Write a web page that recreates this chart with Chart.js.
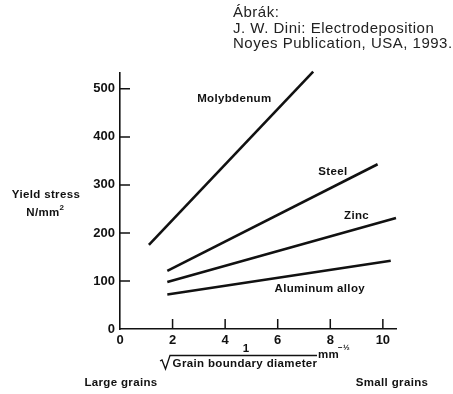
<!DOCTYPE html>
<html>
<head>
<meta charset="utf-8">
<script src="https://cdn.jsdelivr.net/npm/chart.js@4.4.0/dist/chart.umd.min.js"></script>
<style>
  html, body { margin: 0; padding: 0; background: #fff; }
  #wrap { width: 453px; height: 394px; }
</style>
</head>
<body>
<div id="wrap"><canvas id="yieldChart" width="453" height="394"></canvas></div>
<script>
// yield stress vs 1/sqrt(grain diameter)
const xTicks = [0, 2, 4, 6, 8, 10];
const yTicks = [0, 100, 200, 300, 400, 500];

const seriesNames = ['Molybdenum', 'Steel', 'Zinc', 'Aluminum alloy'];
const molybdenumX = [1.1, 7.35];
const molybdenumY = [175, 536];
const steelX = [1.8, 9.8];
const steelY = [121, 343];
const zincX = [1.8, 10.5];
const zincY = [98, 231];
const aluminumX = [1.8, 10.3];
const aluminumY = [72, 142];

const citation = ['Ábrák:', 'J. W. Dini: Electrodeposition', 'Noyes Publication, USA, 1993.'];

const FONT = "'Liberation Sans', Arial, sans-serif";

function toPoints(xs, ys) {
  return xs.map((x, i) => ({ x: x, y: ys[i] }));
}

const allX = [molybdenumX, steelX, zincX, aluminumX];
const allY = [molybdenumY, steelY, zincY, aluminumY];

const datasets = seriesNames.map((name, i) => ({
  label: name,
  data: toPoints(allX[i], allY[i]),
  showLine: true,
  borderColor: '#111',
  borderWidth: 2.6,
  pointRadius: 0,
  clip: false,
}));

// where the series names sit, in data units
const seriesLabelPos = [
  { x: 4.35, y: 479 },
  { x: 8.1, y: 327 },
  { x: 9.0, y: 235 },
  { x: 7.6, y: 83 },
];

const extrasPlugin = {
  id: 'extras',
  afterDraw(chart) {
    const ctx = chart.ctx;
    const xs = chart.scales.x;
    const ys = chart.scales.y;
    const area = chart.chartArea;
    ctx.save();
    ctx.strokeStyle = '#111';
    ctx.fillStyle = '#111';

    // inward tick marks
    ctx.lineWidth = 1.5;
    ctx.beginPath();
    xTicks.forEach(v => {
      if (v === 0) return;
      const px = xs.getPixelForValue(v);
      ctx.moveTo(px, area.bottom);
      ctx.lineTo(px, area.bottom - 10);
    });
    yTicks.forEach(v => {
      if (v === 0) return;
      const py = ys.getPixelForValue(v);
      ctx.moveTo(area.left, py);
      ctx.lineTo(area.left + 10, py);
    });
    ctx.stroke();

    // series names
    ctx.letterSpacing = '0.35px';
    ctx.font = 'bold 11.5px ' + FONT;
    ctx.textAlign = 'center';
    ctx.textBaseline = 'middle';
    seriesNames.forEach((name, i) => {
      const p = seriesLabelPos[i];
      ctx.fillText(name, xs.getPixelForValue(p.x), ys.getPixelForValue(p.y));
    });

    // y title
    ctx.fillText('Yield stress', 46, 195);
    ctx.fillText('N/mm', 43, 213);
    ctx.font = 'bold 8px ' + FONT;
    ctx.fillText('2', 62, 208);

    // x title: 1 / sqrt(Grain boundary diameter)
    ctx.font = 'bold 11.5px ' + FONT;
    ctx.fillText('1', 246, 348.5);
    ctx.fillText('Grain boundary diameter', 245, 364);
    ctx.lineWidth = 1.3;
    ctx.beginPath();
    ctx.moveTo(160, 361);
    ctx.lineTo(162, 360);
    ctx.lineTo(165.5, 369);
    ctx.lineTo(170, 355.5);
    ctx.lineTo(317, 355.5);
    ctx.stroke();
    ctx.textAlign = 'left';
    ctx.fillText('mm', 318, 355);
    ctx.font = 'bold 8px ' + FONT;
    ctx.fillText('−½', 338, 348);

    ctx.font = 'bold 11.5px ' + FONT;
    ctx.textAlign = 'center';
    ctx.fillText('Large grains', 121, 383);
    ctx.fillText('Small grains', 392, 383);

    // source note
    ctx.letterSpacing = '0.5px';
    ctx.font = '15px ' + FONT;
    ctx.fillStyle = '#222';
    ctx.textAlign = 'left';
    citation.forEach((line, i) => ctx.fillText(line, 233, 13 + i * 15.5));
    ctx.restore();
  }
};

new Chart(document.getElementById('yieldChart'), {
  type: 'scatter',
  data: { datasets: datasets },
  options: {
    responsive: false,
    animation: false,
    layout: { padding: { top: 73, right: 57, left: 0, bottom: 0 } },
    plugins: { legend: { display: false }, tooltip: { enabled: false } },
    scales: {
      x: {
        type: 'linear',
        min: 0,
        max: 10.5,
        afterFit: s => { s.height = 65; },
        afterBuildTicks: s => { s.ticks = xTicks.map(v => ({ value: v })); },
        grid: { drawOnChartArea: false, drawTicks: false },
        border: { color: '#111', width: 1.6 },
        ticks: { color: '#111', padding: 4, font: { family: FONT, size: 13, weight: 'bold' } },
      },
      y: {
        type: 'linear',
        min: 0,
        max: 533,
        afterFit: s => { s.width = 120; },
        afterBuildTicks: s => { s.ticks = yTicks.map(v => ({ value: v })); },
        grid: { drawOnChartArea: false, drawTicks: false },
        border: { color: '#111', width: 1.6 },
        ticks: { color: '#111', padding: 5, font: { family: FONT, size: 13, weight: 'bold' } },
      },
    },
  },
  plugins: [extrasPlugin],
});
</script>
</body>
</html>
